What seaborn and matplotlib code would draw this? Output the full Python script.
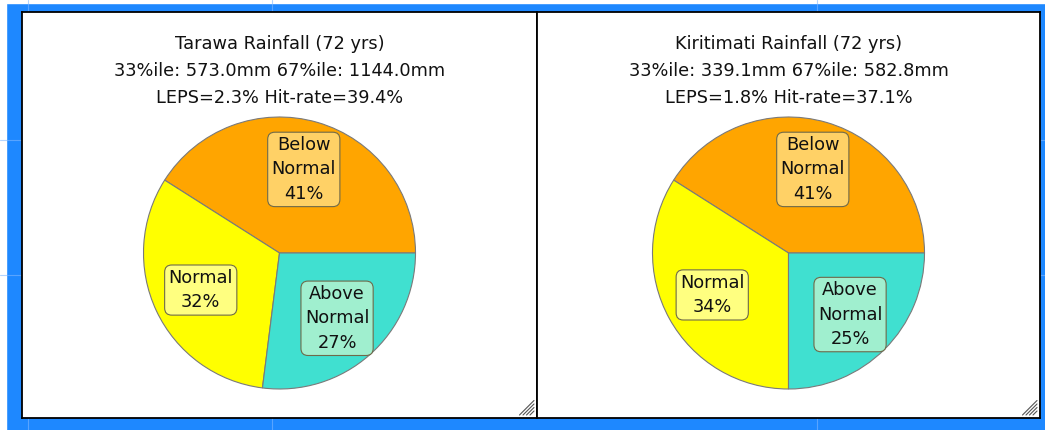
import matplotlib
matplotlib.use("Agg")
import matplotlib.pyplot as plt
import seaborn as sns

# station summaries
stations = ["Tarawa", "Kiritimati"]
n_years = [72, 72]
pct33 = [573.0, 339.1]
pct67 = [1144.0, 582.8]
leps = [2.3, 1.8]
hit_rate = [39.4, 37.1]

categories = ["Below\nNormal", "Normal", "Above\nNormal"]
tarawa_probs = [41, 32, 27]
kiritimati_probs = [41, 34, 25]

sns.set_theme(style="white")
plt.rcParams["font.family"] = ["DejaVu Sans"]

wedge_colors = ["#FFA500", "#FFFF00", "#40E0D0"]
box_colors = ["#FFD166", "#FFFF80", "#A0EFCF"]

W, H = 1045, 430
fig = plt.figure(figsize=(W / 100, H / 100), dpi=100)
fig.patch.set_facecolor("#1E88FF")


def fx(px):
    return px / W


def fy(py):
    return 1 - py / H


# faint map graticule behind the panels
bg = fig.add_axes([0, 0, 1, 1])
bg.set_xlim(0, W)
bg.set_ylim(H, 0)
bg.axis("off")
for x in [28, 272, 817]:
    bg.axvline(x, color="#7fb8ff", lw=0.8, alpha=0.6)
for y in [140, 275]:
    bg.axhline(y, color="#7fb8ff", lw=0.8, alpha=0.6)
bg.axvspan(0, 6, color="white")
bg.axhspan(0, 3, color="white")

panels = [(22, 537), (537, 1040)]
pie_data = [tarawa_probs, kiritimati_probs]

for i, (x0, x1) in enumerate(panels):
    pan = fig.add_axes([fx(x0), fy(418), fx(x1 - x0), (418 - 12) / H])
    pan.set_facecolor("white")
    pan.set_xticks([])
    pan.set_yticks([])
    for sp in pan.spines.values():
        sp.set_visible(True)
        sp.set_color("black")
        sp.set_linewidth(1.3)
    pan.set_xlim(0, x1 - x0)
    pan.set_ylim(406, 0)
    # resize grip
    wpan = x1 - x0
    for k in range(4):
        d = 4 + k * 3.5
        pan.plot([wpan - 3, wpan - 3 - d], [403 - d, 403], color="#555555", lw=0.8)

    cx = (x0 + x1) / 2
    lines = [
        f"{stations[i]} Rainfall ({n_years[i]} yrs)",
        f"33%ile: {pct33[i]:.1f}mm 67%ile: {pct67[i]:.1f}mm",
        f"LEPS={leps[i]:.1f}% Hit-rate={hit_rate[i]:.1f}%",
    ]
    for j, t in enumerate(lines):
        fig.text(fx(cx), fy(44 + 27 * j), t, ha="center", va="center",
                 fontsize=12.8, color="#111111")

    r = 136
    pie_cx = cx
    pie_cy = 253
    pax = fig.add_axes([fx(pie_cx - r * 1.03), fy(pie_cy + r * 1.03),
                        fx(2 * r * 1.03), 2 * r * 1.03 / H])
    vals = pie_data[i]
    wedges, texts = pax.pie(
        vals,
        labels=[f"{c}\n{v}%" for c, v in zip(categories, vals)],
        colors=wedge_colors,
        startangle=0,
        counterclock=True,
        labeldistance=0.64,
        wedgeprops=dict(edgecolor="#7a7a7a", linewidth=0.8),
        textprops=dict(fontsize=12.8, color="#111111", ha="center",
                       va="center", linespacing=1.45),
    )
    for t, bc in zip(texts, box_colors):
        t.set_horizontalalignment("center")
        t.set_verticalalignment("center")
        t.set_bbox(dict(boxstyle="round,pad=0.22,rounding_size=0.4",
                        fc=bc, ec="#6f6a4a", lw=0.8))
    pax.set_xlim(-1.03, 1.03)
    pax.set_ylim(-1.03, 1.03)
    pax.set_aspect("equal")
    pax.axis("off")

fig.savefig("out.png", dpi=100, facecolor=fig.get_facecolor())
